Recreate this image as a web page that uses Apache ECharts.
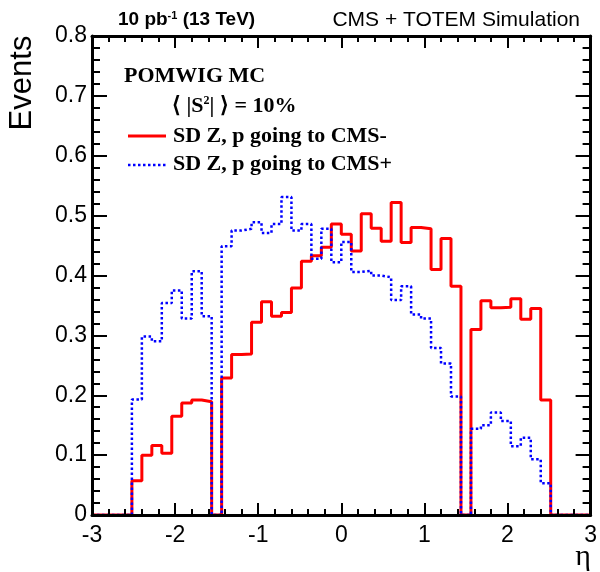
<!DOCTYPE html>
<html><head><meta charset="utf-8">
<script src="https://cdn.jsdelivr.net/npm/echarts@6/dist/echarts.min.js"></script>
<style>html,body{margin:0;padding:0;background:#fff}#c{width:600px;height:572px}</style>
</head><body><div id="c"></div>
<script>
// Histogram definition: 50 bins from eta = -3 to 3
const nBins = 50, etaMin = -3, etaMax = 3;
// SD Z, p going to CMS- (red solid)
const redValues = [0,0,0,0,0.057,0.100,0.116,0.103,0.165,0.187,
  0.192,0.189,0,0.229,0.268,0.269,0.322,0.356,0.332,0.338,
  0.379,0.424,0.433,0.447,0.486,0.469,0.441,0.503,0.479,0.457,
  0.522,0.455,0.480,0.478,0.410,0.462,0.382,0,0.310,0.358,
  0.346,0.347,0.361,0.327,0.345,0.192,0,0,0,0];
// SD Z, p going to CMS+ (blue dotted)
const blueValues = [0,0,0,0,0.193,0.298,0.290,0.354,0.375,0.328,
  0.407,0.332,0,0.449,0.475,0.478,0.489,0.471,0.486,0.531,
  0.475,0.486,0.428,0.478,0.422,0.456,0.406,0.408,0.400,0.397,
  0.359,0.382,0.335,0.328,0.279,0.253,0.198,0,0.144,0.150,
  0.171,0.157,0.115,0.129,0.093,0.053,0,0,0,0];
const seriesNames = ['SD Z, p going to CMS-', 'SD Z, p going to CMS+'];
const xTickMin = -3, xTickMax = 3, xTickStep = 1;
const yTickMin = 0, yTickMax = 0.8, yTickStep = 0.1;

function histPoints(vals) {
  const w = (etaMax - etaMin) / nBins;
  const pts = vals.map((v, k) => [etaMin + k * w, v]);
  pts.push([etaMax, vals[vals.length - 1]]);
  return pts;
}

const chart = echarts.init(document.getElementById('c'), null, {renderer: 'canvas'});
const SANS = '"Liberation Sans", Arial, Helvetica, sans-serif';
const SERIF = '"Liberation Serif", "Times New Roman", serif';

function xAx(pos, labels) {
  return {
    type: 'value', min: xTickMin, max: xTickMax, interval: xTickStep, position: pos, z: 5,
    axisLine: {show: true, onZero: false, lineStyle: {color: '#000', width: 3}},
    axisTick: {show: true, inside: true, length: 12, lineStyle: {color: '#000', width: 2}},
    minorTick: {show: true, splitNumber: 5, length: 6, lineStyle: {color: '#000', width: 2}},
    axisLabel: {show: labels, color: '#000', fontSize: 23, fontFamily: SANS, margin: 9},
    splitLine: {show: false}, minorSplitLine: {show: false}
  };
}
function yAx(pos, labels) {
  return {
    type: 'value', min: yTickMin, max: yTickMax, interval: yTickStep, position: pos, z: 5,
    axisLine: {show: true, onZero: false, lineStyle: {color: '#000', width: 3}},
    axisTick: {show: true, inside: true, length: 15, lineStyle: {color: '#000', width: 2}},
    minorTick: {show: true, splitNumber: 5, length: 8, lineStyle: {color: '#000', width: 2}},
    axisLabel: {show: labels, color: '#000', fontSize: 23, fontFamily: SANS, margin: 5},
    splitLine: {show: false}, minorSplitLine: {show: false}
  };
}

const option = {
  animation: false,
  backgroundColor: '#fff',
  grid: {left: 92, right: 7, top: 36, bottom: 57, containLabel: false},
  xAxis: [xAx('bottom', true), xAx('top', false)],
  yAxis: [yAx('left', true), yAx('right', false)],
  series: [
    {name: seriesNames[0], type: 'line', step: 'end', symbol: 'none', clip: true, z: 3,
     data: histPoints(redValues), lineStyle: {color: '#ff0000', width: 3}},
    {name: seriesNames[1], type: 'line', step: 'end', symbol: 'none', clip: true, z: 4,
     data: histPoints(blueValues), lineStyle: {color: '#0000ff', width: 2.5, type: [2.5, 2.5]}}
  ],
  graphic: [
    {type: 'text', x: 22, y: 83, rotation: Math.PI / 2,
     style: {text: 'Events', fontSize: 31, fontFamily: SANS, fill: '#000', align: 'center', verticalAlign: 'middle'}},
    {type: 'text', x: 583, y: 557,
     style: {text: '\u03b7', fontSize: 30, fontFamily: SERIF, fill: '#000', align: 'center', verticalAlign: 'middle'}},
    {type: 'text', x: 118, y: 20,
     style: {text: '10 pb{sup|-1} (13 TeV)', fontSize: 19, fontWeight: 'bold', fontFamily: SANS, fill: '#000',
       align: 'left', verticalAlign: 'middle',
       rich: {sup: {fontSize: 11, fontWeight: 'bold', fontFamily: SANS, fill: '#000', verticalAlign: 'top'}}}},
    {type: 'text', x: 580, y: 20,
     style: {text: 'CMS + TOTEM Simulation', fontSize: 21, fontFamily: SANS, fill: '#000', align: 'right', verticalAlign: 'middle'}},
    {type: 'text', x: 124, y: 76,
     style: {text: 'POMWIG MC', fontSize: 22, fontWeight: 'bold', fontFamily: SERIF, fill: '#000', align: 'left', verticalAlign: 'middle'}},
    {type: 'text', x: 172, y: 106,
     style: {text: '\u27e8 |S{sup|2}| \u27e9 = 10%', fontSize: 22, fontWeight: 'bold', fontFamily: SERIF, fill: '#000',
       align: 'left', verticalAlign: 'middle',
       rich: {sup: {fontSize: 12, fontWeight: 'bold', fontFamily: SERIF, fill: '#000', verticalAlign: 'top'}}}},
    {type: 'line', shape: {x1: 128, y1: 136, x2: 166, y2: 136}, style: {stroke: '#ff0000', lineWidth: 3}},
    {type: 'text', x: 173, y: 136,
     style: {text: seriesNames[0], fontSize: 22, fontWeight: 'bold', fontFamily: SERIF, fill: '#000', align: 'left', verticalAlign: 'middle'}},
    {type: 'line', shape: {x1: 128, y1: 165, x2: 166, y2: 165}, style: {stroke: '#0000ff', lineWidth: 2.5, lineDash: [2.5, 2.5]}},
    {type: 'text', x: 173, y: 164,
     style: {text: seriesNames[1], fontSize: 22, fontWeight: 'bold', fontFamily: SERIF, fill: '#000', align: 'left', verticalAlign: 'middle'}}
  ]
};
chart.setOption(option);
</script>
</body></html>
